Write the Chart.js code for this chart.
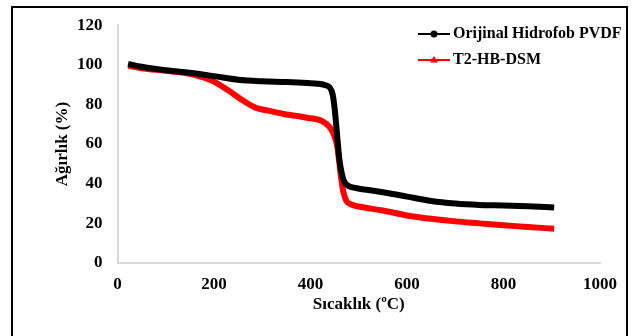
<!DOCTYPE html>
<html>
<head>
<meta charset="utf-8">
<script src="https://cdn.jsdelivr.net/npm/chart.js@4/dist/chart.umd.min.js"></script>
<style>
  body { margin: 0; background: #fff; }
  #wrap { position: relative; width: 632px; height: 336px; overflow: hidden; }
  #frame { position: absolute; left: 11px; top: 6px; width: 617px; height: 340px; border: 2px solid #000; box-sizing: border-box; }
  canvas { position: absolute; left: 0; top: 0; }
</style>
</head>
<body>
<div id="wrap">
  <div id="frame"></div>
  <canvas id="tga" width="632" height="336"></canvas>
</div>
<script>
const seriesNames = ["Orijinal Hidrofob PVDF", "T2-HB-DSM"];

// Orijinal Hidrofob PVDF
const pvdfTemp = [22, 50, 100, 150, 200, 250, 300, 350, 400, 430, 440, 446, 450, 455, 460, 465, 470, 478, 490, 520, 560, 600, 650, 700, 750, 800, 850, 905];
const pvdfWeight = [100.5, 99, 97.3, 96, 94.3, 92.5, 91.7, 91.3, 90.7, 89.8, 88.5, 85, 78, 65, 52, 45, 41, 39, 38, 36.8, 35.3, 33.5, 31.3, 30, 29.3, 29, 28.6, 28];

// T2-HB-DSM
const dsmTemp = [22, 50, 100, 150, 180, 200, 230, 260, 285, 310, 345, 395, 425, 440, 450, 456, 460, 464, 468, 474, 485, 500, 550, 600, 650, 700, 750, 800, 850, 905];
const dsmWeight = [99.5, 98.3, 97, 95.5, 93.5, 91.5, 87, 82, 78.5, 77, 75.2, 73.2, 71.5, 68.5, 64, 58, 50, 42, 36, 31.5, 29.5, 28.5, 26.5, 24, 22.3, 21, 20, 19, 18.2, 17.3];

const xTicks = [0, 200, 400, 600, 800, 1000];
const yTicks = [0, 20, 40, 60, 80, 100, 120];

const serif = "'Liberation Serif', 'Times New Roman', serif";
const toPoints = (xs, ys) => xs.map((x, i) => ({ x: x, y: ys[i] }));

// legend drawn inside the plot, top right
const legendPlugin = {
  id: 'insideLegend',
  afterDraw(chart) {
    const ctx = chart.ctx;
    const x0 = 418, x1 = 450, rows = [34, 60];
    ctx.save();
    chart.data.datasets.forEach((ds, i) => {
      const y = rows[i];
      ctx.strokeStyle = ds.borderColor;
      ctx.fillStyle = ds.borderColor;
      ctx.lineWidth = 2;
      ctx.beginPath();
      ctx.moveTo(x0, y);
      ctx.lineTo(x1, y);
      ctx.stroke();
      const mx = (x0 + x1) / 2;
      ctx.beginPath();
      if (i === 0) {
        ctx.arc(mx, y, 3.5, 0, Math.PI * 2);
      } else {
        ctx.moveTo(mx, y - 4);
        ctx.lineTo(mx + 4, y + 2.5);
        ctx.lineTo(mx - 4, y + 2.5);
        ctx.closePath();
      }
      ctx.fill();
      ctx.fillStyle = '#000';
      ctx.font = "bold 16px " + serif;
      ctx.textBaseline = 'middle';
      ctx.textAlign = 'left';
      ctx.fillText(ds.label, x1 + 3, y);
    });
    ctx.restore();
  }
};

new Chart(document.getElementById('tga'), {
  type: 'line',
  data: {
    datasets: [
      { label: seriesNames[0], data: toPoints(pvdfTemp, pvdfWeight), borderColor: '#000000', backgroundColor: '#000000',
        borderWidth: 6, pointRadius: 0, cubicInterpolationMode: 'monotone' },
      { label: seriesNames[1], data: toPoints(dsmTemp, dsmWeight), borderColor: '#ff0000', backgroundColor: '#ff0000',
        borderWidth: 6, pointRadius: 0, cubicInterpolationMode: 'monotone' }
    ]
  },
  options: {
    responsive: false,
    animation: false,
    devicePixelRatio: 1,
    layout: { padding: { top: 24, right: 32, left: 0, bottom: 0 } },
    plugins: { legend: { display: false }, tooltip: { enabled: false } },
    scales: {
      x: {
        type: 'linear', min: 0, max: 1000,
        afterBuildTicks: s => { s.ticks = xTicks.map(v => ({ value: v })); },
        afterFit: s => { s.height = 73; },
        grid: { display: false, drawTicks: false },
        border: { display: true, color: '#d9d9d9', width: 2 },
        ticks: { color: '#000', padding: 11, callback: v => String(v), font: { family: serif, size: 17, weight: 'bold' } },
        title: { display: true, text: 'Sıcaklık (ºC)', color: '#000', padding: { top: 0, bottom: 21 },
                 font: { family: serif, size: 17, weight: 'bold' } }
      },
      y: {
        min: 0, max: 120,
        afterBuildTicks: s => { s.ticks = yTicks.map(v => ({ value: v })); },
        afterFit: s => { s.width = 117.5; },
        grid: { display: false, drawTicks: false },
        border: { display: true, color: '#d9d9d9', width: 2 },
        ticks: { color: '#000', padding: 15, callback: v => String(v), font: { family: serif, size: 17, weight: 'bold' } },
        title: { display: true, text: 'Ağırlık (%)', color: '#000', padding: { top: 52, bottom: 0 },
                 font: { family: serif, size: 17, weight: 'bold' } }
      }
    }
  },
  plugins: [legendPlugin]
});
</script>
</body>
</html>
